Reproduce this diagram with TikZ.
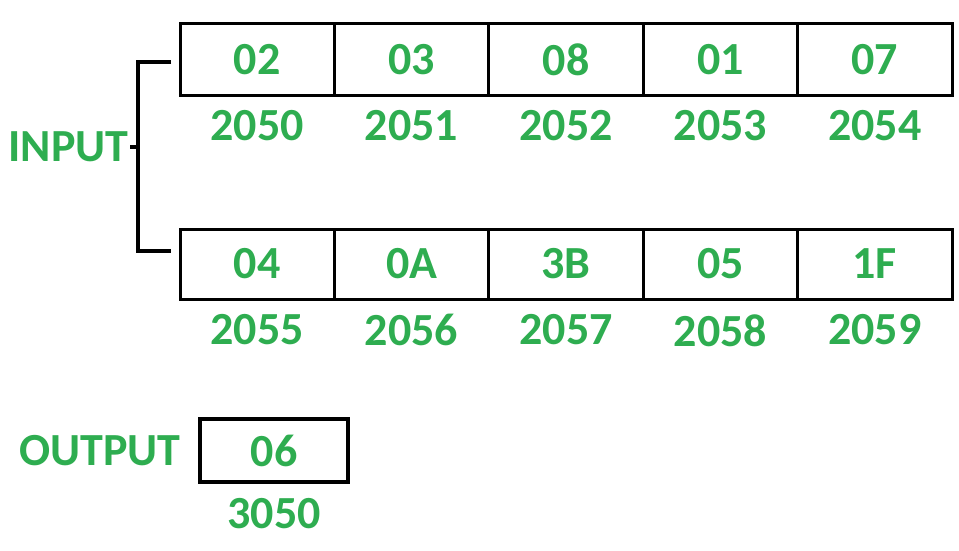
\documentclass[tikz,border=0pt]{standalone}
\usepackage{fontspec}
\setmainfont{Carlito}
\usetikzlibrary{positioning}
\definecolor{gfggreen}{RGB}{46,173,80}
\begin{document}
\begin{tikzpicture}[x=1pt,y=-1pt,line width=3pt,
    cell/.style={draw,minimum width=154.4pt,inner sep=0pt,outer sep=0pt},
    txt/.style={text=gfggreen,inner sep=0pt,font=\fontsize{46}{46}\selectfont\bfseries}]
    \useasboundingbox (0,0) rectangle (959,551);
    % memory cells
    \foreach \v/\a [count=\i from 0] in {02/2050,03/2051,08/2052,01/2053,07/2054}{
        \node[cell,txt,minimum height=72pt] (t\i) at (257.2+154.4*\i,60) {\v};
        \node[txt,below=13pt of t\i] (ta\i) {\a};
    }
    \foreach \v/\a [count=\i from 0] in {04/2055,0A/2056,3B/2057,05/2058,1F/2059}{
        \node[cell,txt,minimum height=70pt] (b\i) at (257.2+154.4*\i,264) {\v};
        \node[txt,below=14pt of b\i] (ba\i) {\a};
    }
    % bracket
    \node[txt,anchor=east] (in) at (130,147) {INPUT};
    \coordinate (bt) at (171,62);
    \coordinate (bb) at (171,251);
    \coordinate (bm) at (138,147);
    \draw[line width=4pt] (bt) -- ++(-33,0) |- (bb);
    \draw[line width=4pt] (in.east) -- (bm);
    % output
    \node[draw,txt,minimum width=148pt,minimum height=63pt,line width=3.5pt] (out) at (274,450.5) {06};
    \node[txt,below=13pt of out] (oa) {3050};
    \node[txt,left=16pt of out] (ol) {OUTPUT};
\end{tikzpicture}
\end{document}
